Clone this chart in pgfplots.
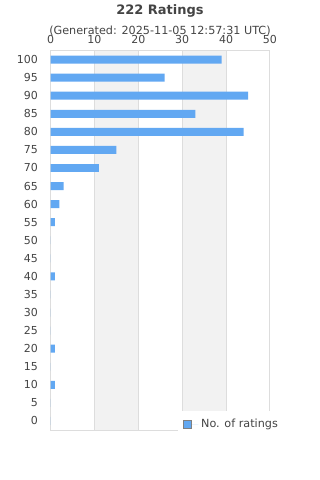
\documentclass[border=0pt]{standalone}
\usepackage{pgfplots}
\pgfplotsset{compat=1.18}
\usepackage{fontspec}
\setmainfont{DejaVu Sans}
\definecolor{barblue}{HTML}{62A8F2}
\definecolor{txt}{HTML}{444444}
\definecolor{gridc}{HTML}{DDDDDD}
\definecolor{band}{HTML}{F2F2F2}
\begin{document}
\begin{tikzpicture}
\path[use as bounding box] (0,0) rectangle (240pt,360pt);
\fill[band] (70.82pt,37.5pt) rectangle (103.74pt,322.1pt);
\fill[band] (136.66pt,37.5pt) rectangle (169.58pt,322.1pt);
\node[font=\bfseries\fontsize{9.75}{11}\selectfont, text=txt] at (120pt,351.5pt) {222 Ratings};
\node[font=\fontsize{8.4}{10}\selectfont, text=txt] at (120pt,336.5pt) {(Generated: 2025-11-05 12:57:31 UTC)};
\begin{axis}[
 at={(37.9pt,37.5pt)}, anchor=south west,
 scale only axis, width=164.6pt, height=284.6pt,
 xbar, bar width=2.2, xmin=0, xmax=50, ymin=-2.5, ymax=102.5,
 xtick={0,10,...,50}, ytick={0,5,...,100},
 xticklabel pos=upper,
 xmajorgrids, grid style={gridc, line width=0.75pt},
 axis line style={gridc, line width=0.75pt},
 major tick length=0pt,
 tick label style={font=\fontsize{8.25}{10}\selectfont, text=txt},
 /pgf/number format/assume math mode=true,
 yticklabel style={xshift=-6pt},
 xticklabel style={yshift=1.5pt},
 legend style={at={(0.58,0.05)}, anchor=north west, draw=none, fill=white,
   font=\fontsize{8.4}{10}\selectfont, text=txt, inner xsep=4pt, inner ysep=4pt},
 legend cell align=left,
 legend image code/.code={\draw[fill=barblue, draw=gray, line width=0.6pt] (0pt,-3pt) rectangle (6pt,3pt); \path (6pt,0pt) -- (11pt,0pt);},
]
\addplot[fill=barblue, draw=none] coordinates {(39,100) (26,95) (45,90) (33,85) (44,80) (15,75) (11,70) (3,65) (2,60) (1,55) (0,50) (0,45) (1,40) (0,35) (0,30) (0,25) (1,20) (0,15) (1,10) (0,5) (0,0)};
\addlegendentry{No. of ratings}
\end{axis}
\end{tikzpicture}
\end{document}
